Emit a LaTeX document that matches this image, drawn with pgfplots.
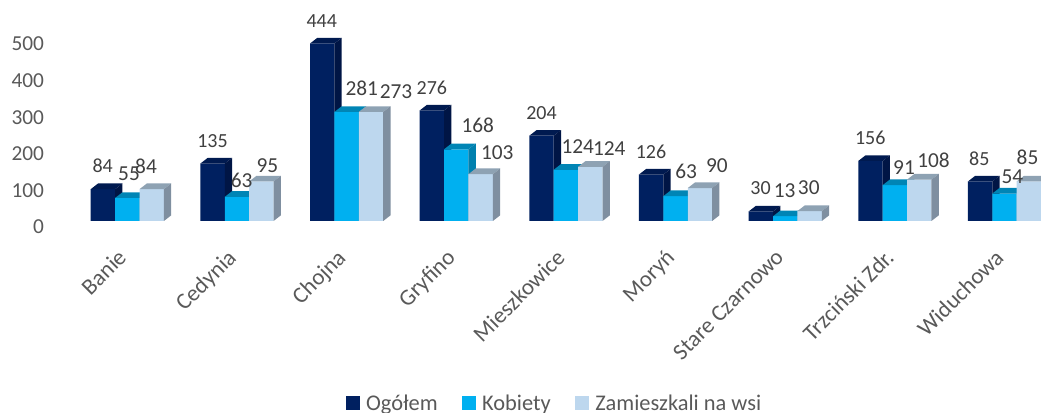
\documentclass[border=0pt]{standalone}
\usepackage{pgfplots}
\usepackage{pgfplotstable}
\usepackage{fontspec}
\setmainfont{Carlito}
\pgfplotsset{compat=1.18}
\definecolor{cA}{HTML}{002060}\definecolor{cAt}{HTML}{001A50}\definecolor{cAs}{HTML}{001545}
\definecolor{cB}{HTML}{00B0F0}\definecolor{cBt}{HTML}{0085B5}\definecolor{cBs}{HTML}{0080AE}
\definecolor{cC}{HTML}{BDD7EE}\definecolor{cCt}{HTML}{8EA2B3}\definecolor{cCs}{HTML}{7F8FA0}
\definecolor{txt}{HTML}{595959}\definecolor{lab}{HTML}{404040}
% bar heights as drawn, per group
\pgfplotstableread{
x  ogolem kobiety wies
0  87     63      87
1  157    66      108
2  485    298     298
3  302    196     128
4  233    140     148
5  127    68      90
6  26     13      27
7  164    98      113
8  108    75      108
}\bars
% printed labels with their position in the picture
\pgfplotstableread{
px     py    lbl
102.7  165.7 84
212.5  141.0 135
321.7  21.3  444
431.9  88.3  276
541.5  112.7 204
651.0  151.7 126
760.6  187.7 30
870.2  137.7 156
979.3  158.3 85
}\labA
\pgfplotstableread{
px     py    lbl
129.0  174.0 55
241.7  180.0 63
361.7  88.3  281
477.7  125.0 168
577.8  146.7 124
686.2  171.7 63
784.7  191.0 13
904.0  167.3 91
1012.4 176.7 54
146.0  166.7 84
267.3  165.7 95
396.0  91.7  273
497.3  152.3 103
609.3  149.0 124
716.8  165.7 90
808.8  187.7 30
933.5  160.0 108
1027.5 157.3 85
}\labB
\newcommand\sides[5]{% x, h, offset, top colour, side colour
  \pgfmathsetmacro\xa{#1+(#3-0.5)*0.2225}
  \pgfmathsetmacro\xb{#1+(#3+0.5)*0.2225}
  \pgfmathsetmacro\xc{\xa+0.0667}
  \pgfmathsetmacro\xd{\xb+0.0667}
  \pgfmathsetmacro\yt{#2+15.5}
  \addplot[fill=#4,draw=none,forget plot] coordinates {(\xa,#2)(\xb,#2)(\xd,\yt)(\xc,\yt)} --cycle;
  \addplot[fill=#5,draw=none,forget plot] coordinates {(\xb,0)(\xd,15.5)(\xd,\yt)(\xb,#2)} --cycle;
}
\newcommand\fs[1]{\fontsize{#1}{#1}\selectfont}
\begin{document}
\begin{tikzpicture}
\useasboundingbox (-39pt,-144pt) rectangle (741.75pt,165.75pt);
\begin{axis}[
  scale only axis, width=741.75pt, height=165.75pt,
  xmin=-0.687, xmax=8.333, ymin=0, ymax=603.8,
  clip=false,
  separate axis lines, x axis line style={draw=none}, y axis line style={draw=none},
  axis x line*=bottom, axis y line*=left,
  major tick length=0pt, tick style={draw=none},
  xtick={0,...,8},
  xticklabels={Banie,Cedynia,Chojna,Gryfino,Mieszkowice,Moryń,Stare Czarnowo,Trzciński Zdr.,Widuchowa},
  xticklabel style={rotate=45,anchor=north east,inner sep=0pt,yshift=-8.3pt,xshift=-19.9pt,font=\fs{17.2},text=txt},
  ytick={0,100,...,500},
  yticklabel style={anchor=east,inner sep=0pt,xshift=-5.8pt,yshift=-4.5pt,font=\fs{16},text=txt,
    /pgf/number format/assume math mode=true},
  legend columns=3,
  legend style={draw=none,fill=none,at={(axis cs:3.90,0)},anchor=center,yshift=-136.8pt,
    font=\fs{16.8},text=txt,inner sep=0pt,
    /tikz/every even column/.append style={column sep=0pt}},
  legend image code/.code={\fill[#1] (0pt,-5pt) rectangle (10.5pt,5.5pt);},
  legend cell align=left,
]
\addplot[ybar,bar width=18.3pt,bar shift=-18.3pt,fill=cA,draw=none] table[x=x,y=ogolem]{\bars};
\addlegendentry{\hspace*{2.5pt}Ogółem\rule{16.4pt}{0pt}}
\sides{0}{87}{-1}{cAt}{cAs}\sides{1}{157}{-1}{cAt}{cAs}\sides{2}{485}{-1}{cAt}{cAs}
\sides{3}{302}{-1}{cAt}{cAs}\sides{4}{233}{-1}{cAt}{cAs}\sides{5}{127}{-1}{cAt}{cAs}
\sides{6}{26}{-1}{cAt}{cAs}\sides{7}{164}{-1}{cAt}{cAs}\sides{8}{108}{-1}{cAt}{cAs}
\addplot[ybar,bar width=18.3pt,bar shift=0pt,fill=cB,draw=none] table[x=x,y=kobiety]{\bars};
\addlegendentry{\hspace*{2.5pt}Kobiety\rule{16.4pt}{0pt}}
\sides{0}{63}{0}{cBt}{cBs}\sides{1}{66}{0}{cBt}{cBs}\sides{2}{298}{0}{cBt}{cBs}
\sides{3}{196}{0}{cBt}{cBs}\sides{4}{140}{0}{cBt}{cBs}\sides{5}{68}{0}{cBt}{cBs}
\sides{6}{13}{0}{cBt}{cBs}\sides{7}{98}{0}{cBt}{cBs}\sides{8}{75}{0}{cBt}{cBs}
\addplot[ybar,bar width=18.3pt,bar shift=18.3pt,fill=cC,draw=none] table[x=x,y=wies]{\bars};
\addlegendentry{\hspace*{2.5pt}Zamieszkali na wsi}
\sides{0}{87}{1}{cCt}{cCs}\sides{1}{108}{1}{cCt}{cCs}\sides{2}{298}{1}{cCt}{cCs}
\sides{3}{128}{1}{cCt}{cCs}\sides{4}{148}{1}{cCt}{cCs}\sides{5}{90}{1}{cCt}{cCs}
\sides{6}{27}{1}{cCt}{cCs}\sides{7}{113}{1}{cCt}{cCs}\sides{8}{108}{1}{cCt}{cCs}
\addplot[only marks,mark=none,forget plot,point meta=explicit symbolic,
  nodes near coords,nodes near coords style={anchor=center,inner sep=0pt,font=\fs{15},text=lab}]
  table[x expr={(\thisrow{px}-127.3)/109.65},y expr={(221-\thisrow{py})/0.366},meta=lbl]{\labA};
\addplot[only marks,mark=none,forget plot,point meta=explicit symbolic,
  nodes near coords,nodes near coords style={anchor=center,inner sep=0pt,font=\fs{16},text=lab}]
  table[x expr={(\thisrow{px}-127.3)/109.65},y expr={(221-\thisrow{py})/0.366},meta=lbl]{\labB};
\end{axis}
\end{tikzpicture}
\end{document}
